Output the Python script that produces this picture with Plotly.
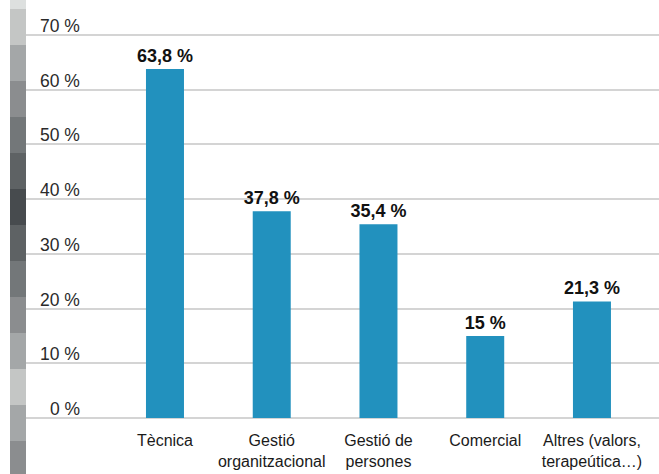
import plotly.graph_objects as go

categories = ["Tècnica", "Gestió<br>organitzacional", "Gestió de<br>persones", "Comercial", "Altres (valors,<br>terapeútica…)"]
values = [63.8, 37.8, 35.4, 15, 21.3]
y_ticks = [0, 10, 20, 30, 40, 50, 60, 70]
y_tick_labels = [f"{t} %" for t in y_ticks]
bar_labels = [f"{v:g}".replace(".", ",") + " %" for v in values]

stripe_colors = ["#dde0df", "#c4c6c5", "#a4a7a8", "#8b8d8f", "#737779", "#5e6264", "#474b4e",
                 "#5e6264", "#737779", "#8b8d8f", "#a4a7a8", "#c4c6c5", "#a4a7a8", "#8b8d8f"]

FONT = "Liberation Sans, Arial, sans-serif"
W, H = 659, 474
ML, MR, MT, MB = 26, 0, 24, 45
PH = H - MT - MB
PW = W - ML - MR

fig = go.Figure()
fig.add_trace(go.Bar(
    x=list(range(len(categories))), y=values,
    marker=dict(color="#2291be", line=dict(width=0)),
    width=0.356,
    text=bar_labels, textposition="outside", cliponaxis=False, constraintext="none",
    textfont=dict(family=FONT, size=18, color="#111111", weight="bold"),
    hoverinfo="skip",
))

shapes = []
# decorative stripe on the left
edges = [0, 9] + [9 + 36 * (i + 1) for i in range(len(stripe_colors) - 1)]
edges[-1] = H
for i, c in enumerate(stripe_colors):
    y0p, y1p = edges[i], edges[i + 1]
    shapes.append(dict(type="rect", xref="paper", yref="paper",
                       x0=(10 - ML) / PW, x1=(26 - ML) / PW,
                       y0=(H - MB - y1p) / PH, y1=(H - MB - y0p) / PH,
                       fillcolor=c, line=dict(width=0), layer="below"))

annotations = []
for t, lab in zip(y_ticks, y_tick_labels):
    annotations.append(dict(x=(82 - ML) / PW, xref="paper", y=t, yref="y",
                            text=lab, showarrow=False, xanchor="right", yanchor="bottom",
                            yshift=-3, font=dict(family=FONT, size=17.5, color="#2a2a2a")))

fig.update_layout(
    width=W, height=H,
    margin=dict(l=ML, r=MR, t=MT, b=MB, autoexpand=False),
    paper_bgcolor="white", plot_bgcolor="white",
    showlegend=False,
    shapes=shapes, annotations=annotations,
    xaxis=dict(range=[-1.302, 4.628], tickmode="array", tickvals=list(range(len(categories))),
               ticktext=categories, showgrid=False, zeroline=False, showline=False,
               ticks="", tickangle=0, automargin=False,
               tickfont=dict(family=FONT, size=16, color="#1a1a1a")),
    yaxis=dict(range=[-2, 72], tickmode="array", tickvals=y_ticks, showticklabels=False,
               automargin=False,
               showgrid=True, gridcolor="#d4d4d4", gridwidth=1.5, zeroline=False, showline=False),
)

fig.write_html("out.html", config={"displayModeBar": False},
               post_script="document.body.style.margin='0';document.body.style.overflow='hidden';")
